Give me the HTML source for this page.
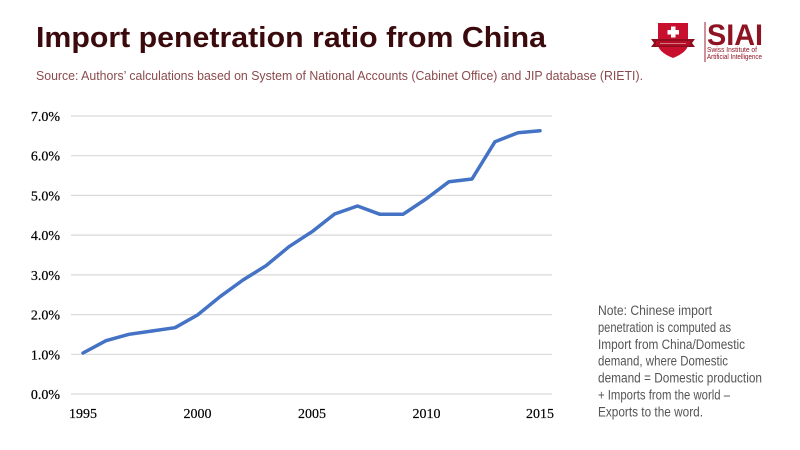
<!DOCTYPE html>
<html>
<head>
<meta charset="utf-8">
<style>
  html,body{margin:0;padding:0;background:#ffffff;}
  svg{display:block;}
</style>
</head>
<body>
<svg width="800" height="450" viewBox="0 0 800 450" xmlns="http://www.w3.org/2000/svg">
  <rect x="0" y="0" width="800" height="450" fill="#ffffff"/>

  <!-- Title -->
  <text x="36" y="47" font-family="Liberation Sans, sans-serif" font-weight="bold" font-size="28.5" fill="#3b0a0d" textLength="510" lengthAdjust="spacingAndGlyphs">Import penetration ratio from China</text>
  <!-- Source -->
  <text x="36" y="80" font-family="Liberation Sans, sans-serif" font-size="12.5" fill="#8a4a4c" textLength="607" lengthAdjust="spacingAndGlyphs">Source: Authors’ calculations based on System of National Accounts (Cabinet Office) and JIP database (RIETI).</text>

  <!-- Logo -->
  <g>
    <path d="M658,23 L688,23 L688,44 Q688,52 673,58 Q658,52 658,44 Z" fill="#c8102e"/>
    <path d="M651,39 L695,39 L692,43 L695,47 L651,47 L654,43 Z" fill="#8e0d1e"/>
    <rect x="656" y="41" width="34" height="4.5" fill="#b50e26"/>
    <line x1="660" y1="43.3" x2="686" y2="43.3" stroke="#ffffff" stroke-width="0.6" opacity="0.7"/>
    <rect x="671" y="26.5" width="4.5" height="11" fill="#ffffff"/>
    <rect x="667.5" y="30" width="11.5" height="4.5" fill="#ffffff"/>
    <line x1="705" y1="22" x2="705" y2="62" stroke="#a02030" stroke-width="1"/>
    <text x="707" y="45" font-family="Liberation Sans, sans-serif" font-weight="bold" font-size="30" fill="#8e1423" textLength="56" lengthAdjust="spacingAndGlyphs">SIAI</text>
    <text x="707" y="52" font-family="Liberation Sans, sans-serif" font-size="7" fill="#8e1423" textLength="50" lengthAdjust="spacingAndGlyphs">Swiss Institute of</text>
    <text x="707" y="59" font-family="Liberation Sans, sans-serif" font-size="7" fill="#8e1423" textLength="55" lengthAdjust="spacingAndGlyphs">Artificial Intelligence</text>
  </g>

  <!-- Gridlines -->
  <g stroke="#d9d9d9" stroke-width="1.2">
    <line x1="71" y1="116" x2="552" y2="116"/>
    <line x1="71" y1="155.7" x2="552" y2="155.7"/>
    <line x1="71" y1="195.4" x2="552" y2="195.4"/>
    <line x1="71" y1="235.1" x2="552" y2="235.1"/>
    <line x1="71" y1="274.9" x2="552" y2="274.9"/>
    <line x1="71" y1="314.6" x2="552" y2="314.6"/>
    <line x1="71" y1="354.3" x2="552" y2="354.3"/>
    <line x1="71" y1="394" x2="552" y2="394"/>
  </g>

  <!-- Y labels -->
  <g font-family="Liberation Serif, serif" font-size="14" fill="#000" text-anchor="end" stroke="#000" stroke-width="0.2">
    <text x="60" y="121">7.0%</text>
    <text x="60" y="160.7">6.0%</text>
    <text x="60" y="200.4">5.0%</text>
    <text x="60" y="240.1">4.0%</text>
    <text x="60" y="279.9">3.0%</text>
    <text x="60" y="319.6">2.0%</text>
    <text x="60" y="359.3">1.0%</text>
    <text x="60" y="399">0.0%</text>
  </g>

  <!-- X labels -->
  <g font-family="Liberation Serif, serif" font-size="14" fill="#000" text-anchor="middle" stroke="#000" stroke-width="0.2">
    <text x="83" y="418">1995</text>
    <text x="197.5" y="418">2000</text>
    <text x="312" y="418">2005</text>
    <text x="426.5" y="418">2010</text>
    <text x="540" y="418">2015</text>
  </g>

  <!-- Series -->
  <polyline fill="none" stroke="#4472c4" stroke-width="3.5" stroke-linejoin="round" stroke-linecap="round"
    points="83,353 106,340.7 129,334.3 152,331 175,327.7 197.5,315 220,296.7 243,280 266,265.7 289,246.7 312,231.7 334.6,214 357.5,206 380,214.3 403,214.3 426,199 449,181.7 472,179 495,141.7 518,132.7 540,130.7"/>

  <!-- Note -->
  <g font-family="Liberation Sans, sans-serif" font-size="13.5" fill="#555555">
    <text x="598" y="315" textLength="114" lengthAdjust="spacingAndGlyphs">Note: Chinese import</text>
    <text x="598" y="331.9" textLength="133" lengthAdjust="spacingAndGlyphs">penetration is computed as</text>
    <text x="598" y="348.8" textLength="147" lengthAdjust="spacingAndGlyphs">Import from China/Domestic</text>
    <text x="598" y="365.7" textLength="130" lengthAdjust="spacingAndGlyphs">demand, where Domestic</text>
    <text x="598" y="382.6" textLength="164" lengthAdjust="spacingAndGlyphs">demand = Domestic production</text>
    <text x="598" y="399.5" textLength="132" lengthAdjust="spacingAndGlyphs">+ Imports from the world –</text>
    <text x="598" y="416.4" textLength="105" lengthAdjust="spacingAndGlyphs">Exports to the word.</text>
  </g>
</svg>
</body>
</html>
